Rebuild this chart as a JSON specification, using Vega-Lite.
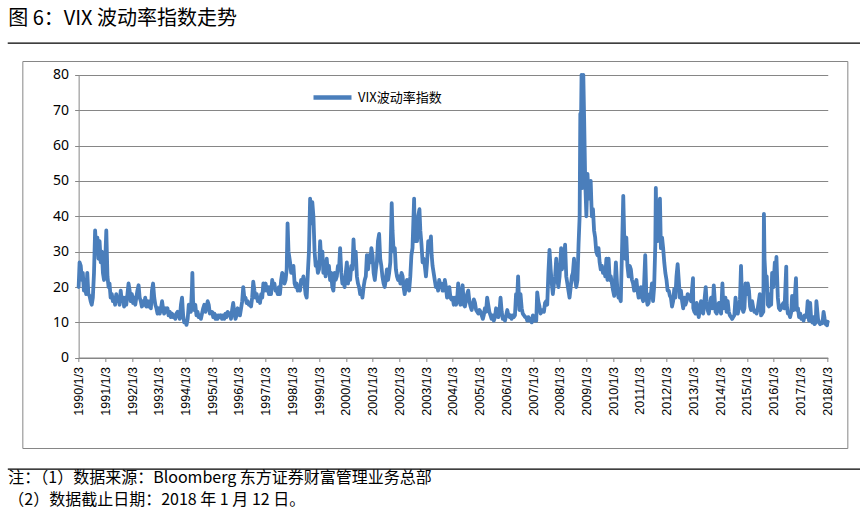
{
  "$schema": "https://vega.github.io/schema/vega-lite/v6.json",
  "background": "white",
  "padding": {"left": 7, "top": 8, "right": 0, "bottom": 0},
  "config": {"font": "Noto Sans CJK SC", "view": {"stroke": null}},
  "spacing": 16,
  "center": true,
  "vconcat": [
    {
      "width": 853,
      "height": 0.01,
      "view": {"stroke": "black", "strokeWidth": 1.3},
      "title": {"text": "图 6：VIX 波动率指数走势", "anchor": "start", "fontSize": 20, "fontWeight": "normal", "font": "Noto Sans CJK SC", "color": "black", "offset": 14},
      "data": {"values": []},
      "mark": "rule",
      "encoding": {}
    },
    {
      "spacing": 19,
      "center": true,
      "vconcat": [
        {
          "width": 825,
          "height": 387,
          "view": {"stroke": "#868686", "strokeWidth": 1},
          "data": {"values": [
{"d":"1990-01-03","v":20},{"d":"1990-01-16","v":27},{"d":"1990-02-01","v":26},{"d":"1990-02-16","v":22},{"d":"1990-03-01","v":24},{"d":"1990-03-16","v":19},{"d":"1990-04-01","v":20},{"d":"1990-04-16","v":18},{"d":"1990-05-01","v":24},{"d":"1990-05-16","v":18},{"d":"1990-06-01","v":17.5},{"d":"1990-06-16","v":16},{"d":"1990-07-01","v":15},{"d":"1990-07-16","v":17},{"d":"1990-08-01","v":24},{"d":"1990-08-16","v":36},{"d":"1990-09-01","v":30},{"d":"1990-09-16","v":34},{"d":"1990-10-01","v":28},{"d":"1990-10-16","v":33},{"d":"1990-11-01","v":27},{"d":"1990-11-16","v":30},{"d":"1990-12-01","v":24},{"d":"1990-12-16","v":22},
{"d":"1991-01-01","v":27},{"d":"1991-01-16","v":36},{"d":"1991-02-01","v":23},{"d":"1991-02-16","v":20},{"d":"1991-03-01","v":21},{"d":"1991-03-16","v":17},{"d":"1991-04-01","v":18},{"d":"1991-04-16","v":16},{"d":"1991-05-01","v":17},{"d":"1991-05-16","v":15},{"d":"1991-06-01","v":18},{"d":"1991-06-16","v":16},{"d":"1991-07-01","v":17},{"d":"1991-07-16","v":15},{"d":"1991-08-01","v":19},{"d":"1991-08-16","v":16},{"d":"1991-09-01","v":17},{"d":"1991-09-16","v":14.5},{"d":"1991-10-01","v":17},{"d":"1991-10-16","v":15},{"d":"1991-11-01","v":18},{"d":"1991-11-16","v":21},{"d":"1991-12-01","v":19},{"d":"1991-12-16","v":16},
{"d":"1992-01-01","v":18},{"d":"1992-01-16","v":15.5},{"d":"1992-02-01","v":17},{"d":"1992-02-16","v":15},{"d":"1992-03-01","v":17},{"d":"1992-03-16","v":19},{"d":"1992-04-01","v":20.5},{"d":"1992-04-16","v":17},{"d":"1992-05-01","v":16},{"d":"1992-05-16","v":14.5},{"d":"1992-06-01","v":16},{"d":"1992-06-16","v":15},{"d":"1992-07-01","v":17},{"d":"1992-07-16","v":14.5},{"d":"1992-08-01","v":16},{"d":"1992-08-16","v":14.5},{"d":"1992-09-01","v":16},{"d":"1992-09-16","v":14},{"d":"1992-10-01","v":19},{"d":"1992-10-16","v":21},{"d":"1992-11-01","v":17},{"d":"1992-11-16","v":15},{"d":"1992-12-01","v":14},{"d":"1992-12-16","v":12.5},
{"d":"1993-01-01","v":14},{"d":"1993-01-16","v":12.5},{"d":"1993-02-01","v":14},{"d":"1993-02-16","v":16},{"d":"1993-03-01","v":14},{"d":"1993-03-16","v":12.5},{"d":"1993-04-01","v":14},{"d":"1993-04-16","v":13},{"d":"1993-05-01","v":14},{"d":"1993-05-16","v":12},{"d":"1993-06-01","v":13},{"d":"1993-06-16","v":11.5},{"d":"1993-07-01","v":12.5},{"d":"1993-07-16","v":11.5},{"d":"1993-08-01","v":12},{"d":"1993-08-16","v":11},{"d":"1993-09-01","v":12.5},{"d":"1993-09-16","v":13},{"d":"1993-10-01","v":12},{"d":"1993-10-16","v":11},{"d":"1993-11-01","v":15},{"d":"1993-11-16","v":17},{"d":"1993-12-01","v":12},{"d":"1993-12-16","v":10},
{"d":"1994-01-01","v":10.5},{"d":"1994-01-16","v":9.3},{"d":"1994-02-01","v":11},{"d":"1994-02-16","v":15},{"d":"1994-03-01","v":14},{"d":"1994-03-16","v":13},{"d":"1994-04-01","v":20},{"d":"1994-04-06","v":24},{"d":"1994-04-16","v":16},{"d":"1994-05-01","v":13.5},{"d":"1994-05-16","v":15},{"d":"1994-06-01","v":12},{"d":"1994-06-16","v":13},{"d":"1994-07-01","v":11.5},{"d":"1994-07-16","v":12},{"d":"1994-08-01","v":11},{"d":"1994-08-16","v":12.5},{"d":"1994-09-01","v":14},{"d":"1994-09-16","v":15},{"d":"1994-10-01","v":13},{"d":"1994-10-16","v":14},{"d":"1994-11-01","v":16},{"d":"1994-11-16","v":15},{"d":"1994-12-01","v":12.5},{"d":"1994-12-16","v":13},
{"d":"1995-01-01","v":13},{"d":"1995-01-16","v":11.5},{"d":"1995-02-01","v":12.5},{"d":"1995-02-16","v":11},{"d":"1995-03-01","v":12},{"d":"1995-03-16","v":11},{"d":"1995-04-01","v":12},{"d":"1995-04-16","v":11.5},{"d":"1995-05-01","v":12},{"d":"1995-05-16","v":11},{"d":"1995-06-01","v":12},{"d":"1995-06-16","v":11},{"d":"1995-07-01","v":12.5},{"d":"1995-07-16","v":11.5},{"d":"1995-08-01","v":13},{"d":"1995-08-16","v":12},{"d":"1995-09-01","v":12.5},{"d":"1995-09-16","v":11},{"d":"1995-10-01","v":13.5},{"d":"1995-10-16","v":15.5},{"d":"1995-11-01","v":12.5},{"d":"1995-11-16","v":11},{"d":"1995-12-01","v":12},{"d":"1995-12-16","v":14},
{"d":"1996-01-01","v":13},{"d":"1996-01-16","v":12},{"d":"1996-02-01","v":14},{"d":"1996-02-16","v":16},{"d":"1996-03-01","v":20},{"d":"1996-03-16","v":17},{"d":"1996-04-01","v":17},{"d":"1996-04-16","v":15.5},{"d":"1996-05-01","v":16},{"d":"1996-05-16","v":15},{"d":"1996-06-01","v":15},{"d":"1996-06-16","v":14.5},{"d":"1996-07-01","v":17},{"d":"1996-07-16","v":21.5},{"d":"1996-08-01","v":19},{"d":"1996-08-16","v":17},{"d":"1996-09-01","v":18},{"d":"1996-09-16","v":16},{"d":"1996-10-01","v":17},{"d":"1996-10-16","v":15.5},{"d":"1996-11-01","v":18},{"d":"1996-11-16","v":17},{"d":"1996-12-01","v":21},{"d":"1996-12-16","v":19},
{"d":"1997-01-01","v":21},{"d":"1997-01-16","v":19},{"d":"1997-02-01","v":20},{"d":"1997-02-16","v":18},{"d":"1997-03-01","v":20},{"d":"1997-03-16","v":18},{"d":"1997-04-01","v":22},{"d":"1997-04-16","v":20},{"d":"1997-05-01","v":21},{"d":"1997-05-16","v":19},{"d":"1997-06-01","v":19},{"d":"1997-06-16","v":18},{"d":"1997-07-01","v":20},{"d":"1997-07-16","v":18},{"d":"1997-08-01","v":22},{"d":"1997-08-16","v":24},{"d":"1997-09-01","v":23},{"d":"1997-09-16","v":21},{"d":"1997-10-01","v":22},{"d":"1997-10-16","v":25},{"d":"1997-10-28","v":38},{"d":"1997-11-10","v":30},{"d":"1997-12-01","v":27},{"d":"1997-12-16","v":24},
{"d":"1998-01-01","v":24},{"d":"1998-01-16","v":26},{"d":"1998-02-01","v":21},{"d":"1998-02-16","v":20},{"d":"1998-03-01","v":21},{"d":"1998-03-16","v":19},{"d":"1998-04-01","v":20},{"d":"1998-04-16","v":19},{"d":"1998-05-01","v":22},{"d":"1998-05-16","v":21},{"d":"1998-06-01","v":23},{"d":"1998-06-16","v":21},{"d":"1998-07-01","v":18},{"d":"1998-07-16","v":17},{"d":"1998-08-01","v":24},{"d":"1998-08-16","v":30},{"d":"1998-09-01","v":45},{"d":"1998-09-16","v":38},{"d":"1998-10-01","v":44},{"d":"1998-10-16","v":40},{"d":"1998-11-01","v":30},{"d":"1998-11-16","v":26},{"d":"1998-12-01","v":27},{"d":"1998-12-16","v":24},
{"d":"1999-01-01","v":25},{"d":"1999-01-16","v":33},{"d":"1999-02-01","v":27},{"d":"1999-02-16","v":30},{"d":"1999-03-01","v":24},{"d":"1999-03-16","v":26},{"d":"1999-04-01","v":23},{"d":"1999-04-16","v":28},{"d":"1999-05-01","v":24},{"d":"1999-05-16","v":26},{"d":"1999-06-01","v":22},{"d":"1999-06-16","v":24},{"d":"1999-07-01","v":20},{"d":"1999-07-16","v":19},{"d":"1999-08-01","v":24},{"d":"1999-08-16","v":22},{"d":"1999-09-01","v":23},{"d":"1999-09-16","v":26},{"d":"1999-10-01","v":25},{"d":"1999-10-16","v":31},{"d":"1999-11-01","v":24},{"d":"1999-11-16","v":21},{"d":"1999-12-01","v":22},{"d":"1999-12-16","v":20},
{"d":"2000-01-01","v":24},{"d":"2000-01-16","v":27},{"d":"2000-02-01","v":21},{"d":"2000-02-16","v":25},{"d":"2000-03-01","v":22},{"d":"2000-03-16","v":26},{"d":"2000-04-01","v":25},{"d":"2000-04-16","v":33.5},{"d":"2000-05-01","v":27},{"d":"2000-05-16","v":30},{"d":"2000-06-01","v":23},{"d":"2000-06-16","v":21},{"d":"2000-07-01","v":20},{"d":"2000-07-16","v":18},{"d":"2000-08-01","v":19},{"d":"2000-08-16","v":17},{"d":"2000-09-01","v":20},{"d":"2000-09-16","v":22},{"d":"2000-10-01","v":23},{"d":"2000-10-16","v":29},{"d":"2000-11-01","v":25},{"d":"2000-11-16","v":29},{"d":"2000-12-01","v":27},{"d":"2000-12-16","v":31},
{"d":"2001-01-01","v":29},{"d":"2001-01-16","v":24},{"d":"2001-02-01","v":22},{"d":"2001-02-16","v":25},{"d":"2001-03-01","v":27},{"d":"2001-03-16","v":33},{"d":"2001-04-01","v":35},{"d":"2001-04-16","v":28},{"d":"2001-05-01","v":26},{"d":"2001-05-16","v":23},{"d":"2001-06-01","v":21},{"d":"2001-06-16","v":20},{"d":"2001-07-01","v":22},{"d":"2001-07-16","v":25},{"d":"2001-08-01","v":22},{"d":"2001-08-16","v":24},{"d":"2001-09-01","v":27},{"d":"2001-09-20","v":43.7},{"d":"2001-10-01","v":36},{"d":"2001-10-16","v":30},{"d":"2001-11-01","v":31},{"d":"2001-11-16","v":25},{"d":"2001-12-01","v":23},{"d":"2001-12-16","v":22},
{"d":"2002-01-01","v":23},{"d":"2002-01-16","v":21},{"d":"2002-02-01","v":24},{"d":"2002-02-16","v":23},{"d":"2002-03-01","v":20},{"d":"2002-03-16","v":18},{"d":"2002-04-01","v":20},{"d":"2002-04-16","v":22},{"d":"2002-05-01","v":21},{"d":"2002-05-16","v":19},{"d":"2002-06-01","v":23},{"d":"2002-06-16","v":29},{"d":"2002-07-01","v":31},{"d":"2002-07-23","v":45},{"d":"2002-08-01","v":33},{"d":"2002-08-16","v":36},{"d":"2002-09-01","v":33},{"d":"2002-09-16","v":40},{"d":"2002-10-04","v":42},{"d":"2002-10-16","v":36},{"d":"2002-11-01","v":32},{"d":"2002-11-16","v":27},{"d":"2002-12-01","v":28},{"d":"2002-12-16","v":26},
{"d":"2003-01-01","v":23},{"d":"2003-01-16","v":27},{"d":"2003-02-01","v":33},{"d":"2003-02-16","v":30},{"d":"2003-03-10","v":34.3},{"d":"2003-03-20","v":29},{"d":"2003-04-01","v":26},{"d":"2003-04-16","v":24},{"d":"2003-05-01","v":22},{"d":"2003-05-16","v":20},{"d":"2003-06-01","v":21},{"d":"2003-06-16","v":19},{"d":"2003-07-01","v":22},{"d":"2003-07-16","v":20},{"d":"2003-08-01","v":21},{"d":"2003-08-16","v":19},{"d":"2003-09-01","v":19},{"d":"2003-09-16","v":22},{"d":"2003-10-01","v":20},{"d":"2003-10-16","v":17},{"d":"2003-11-01","v":18},{"d":"2003-11-16","v":20},{"d":"2003-12-01","v":17},{"d":"2003-12-16","v":16.5},
{"d":"2004-01-01","v":17},{"d":"2004-01-16","v":15},{"d":"2004-02-01","v":17},{"d":"2004-02-16","v":15},{"d":"2004-03-01","v":16},{"d":"2004-03-16","v":21},{"d":"2004-04-01","v":17},{"d":"2004-04-16","v":15},{"d":"2004-05-01","v":18},{"d":"2004-05-16","v":20.5},{"d":"2004-06-01","v":15},{"d":"2004-06-16","v":14.5},{"d":"2004-07-01","v":16},{"d":"2004-07-16","v":18},{"d":"2004-08-01","v":19},{"d":"2004-08-16","v":16},{"d":"2004-09-01","v":14.5},{"d":"2004-09-16","v":13.5},{"d":"2004-10-01","v":15},{"d":"2004-10-16","v":16.5},{"d":"2004-11-01","v":15.5},{"d":"2004-11-16","v":13.5},{"d":"2004-12-01","v":13},{"d":"2004-12-16","v":12.5},
{"d":"2005-01-01","v":13.5},{"d":"2005-01-16","v":13},{"d":"2005-02-01","v":12},{"d":"2005-02-16","v":11},{"d":"2005-03-01","v":12},{"d":"2005-03-16","v":14},{"d":"2005-04-01","v":13},{"d":"2005-04-16","v":17},{"d":"2005-05-01","v":15},{"d":"2005-05-16","v":13},{"d":"2005-06-01","v":12},{"d":"2005-06-16","v":11},{"d":"2005-07-01","v":12},{"d":"2005-07-16","v":10.5},{"d":"2005-08-01","v":11.5},{"d":"2005-08-16","v":14},{"d":"2005-09-01","v":12.5},{"d":"2005-09-16","v":11.5},{"d":"2005-10-01","v":13},{"d":"2005-10-16","v":17},{"d":"2005-11-01","v":13},{"d":"2005-11-16","v":11},{"d":"2005-12-01","v":11.5},{"d":"2005-12-16","v":10.5},
{"d":"2006-01-01","v":12},{"d":"2006-01-16","v":13.5},{"d":"2006-02-01","v":12},{"d":"2006-02-16","v":11.5},{"d":"2006-03-01","v":12},{"d":"2006-03-16","v":11},{"d":"2006-04-01","v":12},{"d":"2006-04-16","v":11.5},{"d":"2006-05-01","v":12},{"d":"2006-05-16","v":18},{"d":"2006-06-01","v":17},{"d":"2006-06-13","v":23},{"d":"2006-07-01","v":13.5},{"d":"2006-07-16","v":18},{"d":"2006-08-01","v":14},{"d":"2006-08-16","v":12.5},{"d":"2006-09-01","v":12},{"d":"2006-09-16","v":11.5},{"d":"2006-10-01","v":11.5},{"d":"2006-10-16","v":10.5},{"d":"2006-11-01","v":11.5},{"d":"2006-11-16","v":10.5},{"d":"2006-12-01","v":11},{"d":"2006-12-16","v":10},
{"d":"2007-01-01","v":12},{"d":"2007-01-16","v":10.5},{"d":"2007-02-01","v":11},{"d":"2007-02-16","v":10.5},{"d":"2007-03-01","v":18.5},{"d":"2007-03-16","v":16},{"d":"2007-04-01","v":14.5},{"d":"2007-04-16","v":12.5},{"d":"2007-05-01","v":13},{"d":"2007-05-16","v":13.5},{"d":"2007-06-01","v":13},{"d":"2007-06-16","v":15.5},{"d":"2007-07-01","v":16},{"d":"2007-07-16","v":15},{"d":"2007-08-01","v":24},{"d":"2007-08-16","v":30.5},{"d":"2007-09-01","v":25},{"d":"2007-09-16","v":21},{"d":"2007-10-01","v":18},{"d":"2007-10-16","v":21},{"d":"2007-11-01","v":23},{"d":"2007-11-16","v":28},{"d":"2007-12-01","v":22},{"d":"2007-12-16","v":20},
{"d":"2008-01-01","v":23},{"d":"2008-01-22","v":31},{"d":"2008-02-01","v":25},{"d":"2008-02-16","v":26},{"d":"2008-03-01","v":27},{"d":"2008-03-16","v":32},{"d":"2008-04-01","v":23},{"d":"2008-04-16","v":21},{"d":"2008-05-01","v":19},{"d":"2008-05-16","v":17},{"d":"2008-06-01","v":20},{"d":"2008-06-16","v":23},{"d":"2008-07-01","v":24},{"d":"2008-07-16","v":28},{"d":"2008-08-01","v":22},{"d":"2008-08-16","v":20},{"d":"2008-09-01","v":22},{"d":"2008-09-16","v":32},{"d":"2008-10-01","v":40},{"d":"2008-10-10","v":69},{"d":"2008-10-16","v":60},{"d":"2008-10-27","v":80},{"d":"2008-11-04","v":48},{"d":"2008-11-20","v":80},{"d":"2008-12-01","v":68},{"d":"2008-12-16","v":50},
{"d":"2009-01-01","v":40},{"d":"2009-01-16","v":52},{"d":"2009-02-01","v":45},{"d":"2009-02-16","v":47},{"d":"2009-03-01","v":50},{"d":"2009-03-16","v":40},{"d":"2009-04-01","v":42},{"d":"2009-04-16","v":36},{"d":"2009-05-01","v":34},{"d":"2009-05-16","v":30},{"d":"2009-06-01","v":29},{"d":"2009-06-16","v":31},{"d":"2009-07-01","v":27},{"d":"2009-07-16","v":25},{"d":"2009-08-01","v":26},{"d":"2009-08-16","v":24},{"d":"2009-09-01","v":25},{"d":"2009-09-16","v":23},{"d":"2009-10-01","v":28},{"d":"2009-10-16","v":22},{"d":"2009-11-01","v":28},{"d":"2009-11-16","v":22},{"d":"2009-12-01","v":23},{"d":"2009-12-16","v":21},
{"d":"2010-01-01","v":19},{"d":"2010-01-16","v":17.5},{"d":"2010-02-01","v":24},{"d":"2010-02-08","v":27},{"d":"2010-03-01","v":19},{"d":"2010-03-16","v":17},{"d":"2010-04-01","v":17},{"d":"2010-04-16","v":16},{"d":"2010-05-06","v":33},{"d":"2010-05-20","v":45.8},{"d":"2010-06-01","v":35},{"d":"2010-06-16","v":28},{"d":"2010-07-01","v":34},{"d":"2010-07-16","v":26},{"d":"2010-08-01","v":23},{"d":"2010-08-16","v":26},{"d":"2010-09-01","v":25},{"d":"2010-09-16","v":22},{"d":"2010-10-01","v":21},{"d":"2010-10-16","v":19},{"d":"2010-11-01","v":21},{"d":"2010-11-16","v":22},{"d":"2010-12-01","v":19},{"d":"2010-12-16","v":17},
{"d":"2011-01-01","v":17.5},{"d":"2011-01-16","v":20},{"d":"2011-02-01","v":17},{"d":"2011-02-16","v":16},{"d":"2011-03-01","v":21},{"d":"2011-03-16","v":29},{"d":"2011-04-01","v":17},{"d":"2011-04-16","v":15},{"d":"2011-05-01","v":15.5},{"d":"2011-05-16","v":18},{"d":"2011-06-01","v":18},{"d":"2011-06-16","v":21},{"d":"2011-07-01","v":16},{"d":"2011-07-16","v":20},{"d":"2011-08-01","v":32},{"d":"2011-08-08","v":48},{"d":"2011-08-16","v":38},{"d":"2011-09-01","v":33},{"d":"2011-09-16","v":41},{"d":"2011-10-03","v":45},{"d":"2011-10-16","v":31},{"d":"2011-11-01","v":34},{"d":"2011-11-16","v":31},{"d":"2011-12-01","v":27},{"d":"2011-12-16","v":24},
{"d":"2012-01-01","v":22},{"d":"2012-01-16","v":19},{"d":"2012-02-01","v":19},{"d":"2012-02-16","v":17.5},{"d":"2012-03-01","v":17},{"d":"2012-03-16","v":14.5},{"d":"2012-04-01","v":16},{"d":"2012-04-16","v":19.5},{"d":"2012-05-01","v":17},{"d":"2012-05-16","v":23},{"d":"2012-06-01","v":26.5},{"d":"2012-06-16","v":22},{"d":"2012-07-01","v":17},{"d":"2012-07-16","v":19},{"d":"2012-08-01","v":16},{"d":"2012-08-16","v":14},{"d":"2012-09-01","v":17},{"d":"2012-09-16","v":15},{"d":"2012-10-01","v":16},{"d":"2012-10-16","v":18},{"d":"2012-11-01","v":17.5},{"d":"2012-11-16","v":17},{"d":"2012-12-01","v":16},{"d":"2012-12-28","v":22.5},
{"d":"2013-01-01","v":14},{"d":"2013-01-16","v":13},{"d":"2013-02-01","v":12.5},{"d":"2013-02-16","v":15.5},{"d":"2013-03-01","v":14},{"d":"2013-03-16","v":11.5},{"d":"2013-04-01","v":13.5},{"d":"2013-04-16","v":16},{"d":"2013-05-01","v":13},{"d":"2013-05-16","v":12.5},{"d":"2013-06-01","v":16},{"d":"2013-06-20","v":20},{"d":"2013-07-01","v":16},{"d":"2013-07-16","v":13.5},{"d":"2013-08-01","v":12.5},{"d":"2013-08-16","v":15},{"d":"2013-09-01","v":17},{"d":"2013-09-16","v":14},{"d":"2013-10-01","v":17},{"d":"2013-10-08","v":20.5},{"d":"2013-11-01","v":13},{"d":"2013-11-16","v":12.5},{"d":"2013-12-01","v":14},{"d":"2013-12-16","v":15.5},
{"d":"2014-01-01","v":13.5},{"d":"2014-01-16","v":12.5},{"d":"2014-02-03","v":21},{"d":"2014-02-16","v":14},{"d":"2014-03-01","v":15},{"d":"2014-03-16","v":17},{"d":"2014-04-01","v":13},{"d":"2014-04-16","v":16},{"d":"2014-05-01","v":13},{"d":"2014-05-16","v":12},{"d":"2014-06-01","v":11.5},{"d":"2014-06-16","v":11},{"d":"2014-07-01","v":11.5},{"d":"2014-07-16","v":12},{"d":"2014-08-01","v":17},{"d":"2014-08-16","v":13.5},{"d":"2014-09-01","v":12.5},{"d":"2014-09-16","v":14},{"d":"2014-10-01","v":16.5},{"d":"2014-10-15","v":26},{"d":"2014-11-01","v":14},{"d":"2014-11-16","v":13},{"d":"2014-12-01","v":14},{"d":"2014-12-16","v":21},
{"d":"2015-01-01","v":18},{"d":"2015-01-16","v":21},{"d":"2015-02-01","v":19},{"d":"2015-02-16","v":14.5},{"d":"2015-03-01","v":13.5},{"d":"2015-03-16","v":16},{"d":"2015-04-01","v":14},{"d":"2015-04-16","v":13},{"d":"2015-05-01","v":13},{"d":"2015-05-16","v":12.5},{"d":"2015-06-01","v":14},{"d":"2015-06-29","v":18},{"d":"2015-07-10","v":16},{"d":"2015-07-16","v":12},{"d":"2015-08-01","v":12.5},{"d":"2015-08-16","v":13},{"d":"2015-08-24","v":40.7},{"d":"2015-09-01","v":28},{"d":"2015-09-16","v":22},{"d":"2015-10-01","v":23},{"d":"2015-10-16","v":15},{"d":"2015-11-01","v":14.5},{"d":"2015-11-16","v":18},{"d":"2015-12-01","v":15},{"d":"2015-12-14","v":24},
{"d":"2016-01-01","v":20},{"d":"2016-01-20","v":27},{"d":"2016-02-01","v":22},{"d":"2016-02-11","v":28.5},{"d":"2016-03-01","v":17},{"d":"2016-03-16","v":14},{"d":"2016-04-01","v":13.5},{"d":"2016-04-16","v":14},{"d":"2016-05-01","v":15},{"d":"2016-05-16","v":15.5},{"d":"2016-06-01","v":14},{"d":"2016-06-24","v":25.8},{"d":"2016-07-01","v":15},{"d":"2016-07-16","v":12.5},{"d":"2016-08-01","v":12.5},{"d":"2016-08-16","v":11.5},{"d":"2016-09-01","v":13},{"d":"2016-09-12","v":17.5},{"d":"2016-10-01","v":13.5},{"d":"2016-10-16","v":16},{"d":"2016-11-04","v":22.5},{"d":"2016-11-16","v":13.5},{"d":"2016-12-01","v":14},{"d":"2016-12-16","v":11.5},
{"d":"2017-01-01","v":12.5},{"d":"2017-01-16","v":11},{"d":"2017-02-01","v":11.5},{"d":"2017-02-16","v":10.5},{"d":"2017-03-01","v":12},{"d":"2017-03-16","v":11.5},{"d":"2017-04-01","v":12.5},{"d":"2017-04-13","v":16},{"d":"2017-05-01","v":10.5},{"d":"2017-05-17","v":15.5},{"d":"2017-06-01","v":10.5},{"d":"2017-06-16","v":10},{"d":"2017-07-01","v":11.5},{"d":"2017-07-16","v":9.5},{"d":"2017-08-01","v":10},{"d":"2017-08-10","v":16},{"d":"2017-09-01","v":11},{"d":"2017-09-16","v":10},{"d":"2017-10-01","v":9.5},{"d":"2017-10-16","v":10},{"d":"2017-11-01","v":9.8},{"d":"2017-11-16","v":13},{"d":"2017-12-01","v":11},{"d":"2017-12-16","v":9.5},
{"d":"2018-01-03","v":9.2},{"d":"2018-01-08","v":10},{"d":"2018-01-12","v":10.2}
          ]},
          "mark": {"type": "line", "strokeWidth": 3.8, "strokeJoin": "round", "strokeCap": "round", "clip": false},
          "encoding": {
            "x": {
              "field": "d", "type": "temporal",
              "scale": {"type": "utc", "domain": [{"year": 1990, "month": 1, "date": 3, "utc": true}, {"year": 2018, "month": 1, "date": 12, "utc": true}], "range": [56.3, 805.4], "nice": false},
              "axis": {
                "orient": "bottom", "offset": -90.5, "title": null, "grid": false,
                "values": [
                  {"year": 1990, "month": 1, "date": 3, "utc": true}, {"year": 1991, "month": 1, "date": 3, "utc": true}, {"year": 1992, "month": 1, "date": 3, "utc": true}, {"year": 1993, "month": 1, "date": 3, "utc": true}, {"year": 1994, "month": 1, "date": 3, "utc": true}, {"year": 1995, "month": 1, "date": 3, "utc": true}, {"year": 1996, "month": 1, "date": 3, "utc": true}, {"year": 1997, "month": 1, "date": 3, "utc": true}, {"year": 1998, "month": 1, "date": 3, "utc": true}, {"year": 1999, "month": 1, "date": 3, "utc": true},
                  {"year": 2000, "month": 1, "date": 3, "utc": true}, {"year": 2001, "month": 1, "date": 3, "utc": true}, {"year": 2002, "month": 1, "date": 3, "utc": true}, {"year": 2003, "month": 1, "date": 3, "utc": true}, {"year": 2004, "month": 1, "date": 3, "utc": true}, {"year": 2005, "month": 1, "date": 3, "utc": true}, {"year": 2006, "month": 1, "date": 3, "utc": true}, {"year": 2007, "month": 1, "date": 3, "utc": true}, {"year": 2008, "month": 1, "date": 3, "utc": true}, {"year": 2009, "month": 1, "date": 3, "utc": true},
                  {"year": 2010, "month": 1, "date": 3, "utc": true}, {"year": 2011, "month": 1, "date": 3, "utc": true}, {"year": 2012, "month": 1, "date": 3, "utc": true}, {"year": 2013, "month": 1, "date": 3, "utc": true}, {"year": 2014, "month": 1, "date": 3, "utc": true}, {"year": 2015, "month": 1, "date": 3, "utc": true}, {"year": 2016, "month": 1, "date": 3, "utc": true}, {"year": 2017, "month": 1, "date": 3, "utc": true}, {"year": 2018, "month": 1, "date": 3, "utc": true}
                ],
                "format": "%Y/%-m/%-d", "labelAngle": -90, "labelFontSize": 12.5, "labelFont": "Liberation Sans", "labelColor": "black",
                "labelPadding": 5, "labelOverlap": false, "labelFlush": false,
                "domainColor": "#868686", "tickColor": "#868686", "tickSize": 4
              }
            },
            "y": {
              "field": "v", "type": "quantitative",
              "scale": {"domain": [0, 80], "range": [296.8, 13.8], "nice": false},
              "axis": {
                "offset": -56.3, "title": null, "values": [0, 10, 20, 30, 40, 50, 60, 70, 80],
                "grid": true, "gridColor": "#868686", "gridWidth": 1,
                "domainColor": "#868686", "tickColor": "#868686", "tickSize": 4,
                "labelFontSize": 14, "labelFont": "Noto Sans", "labelColor": "black", "labelPadding": 6, "minExtent": 0
              }
            },
            "color": {
              "datum": "VIX波动率指数",
              "scale": {"range": ["#4A7EBB"]},
              "legend": {"orient": "none", "legendX": 303, "legendY": 33, "title": null, "symbolType": "stroke", "symbolSize": 1444, "symbolStrokeWidth": 4.5, "labelFontSize": 13, "labelColor": "black", "labelFont": "Noto Sans CJK SC", "labelOffset": 4}
            }
          }
        },
        {
          "width": 853,
          "height": 0.01,
          "view": {"stroke": "black", "strokeWidth": 1.3},
          "title": {"text": ["注：（1）数据来源：Bloomberg 东方证券财富管理业务总部", "（2）数据截止日期：2018 年 1 月 12 日。"], "orient": "bottom", "anchor": "start", "fontSize": 16, "lineHeight": 22, "fontWeight": "normal", "font": "Noto Sans CJK SC", "color": "black", "offset": 1},
          "data": {"values": []},
          "mark": "rule",
          "encoding": {}
        }
      ]
    }
  ]
}
